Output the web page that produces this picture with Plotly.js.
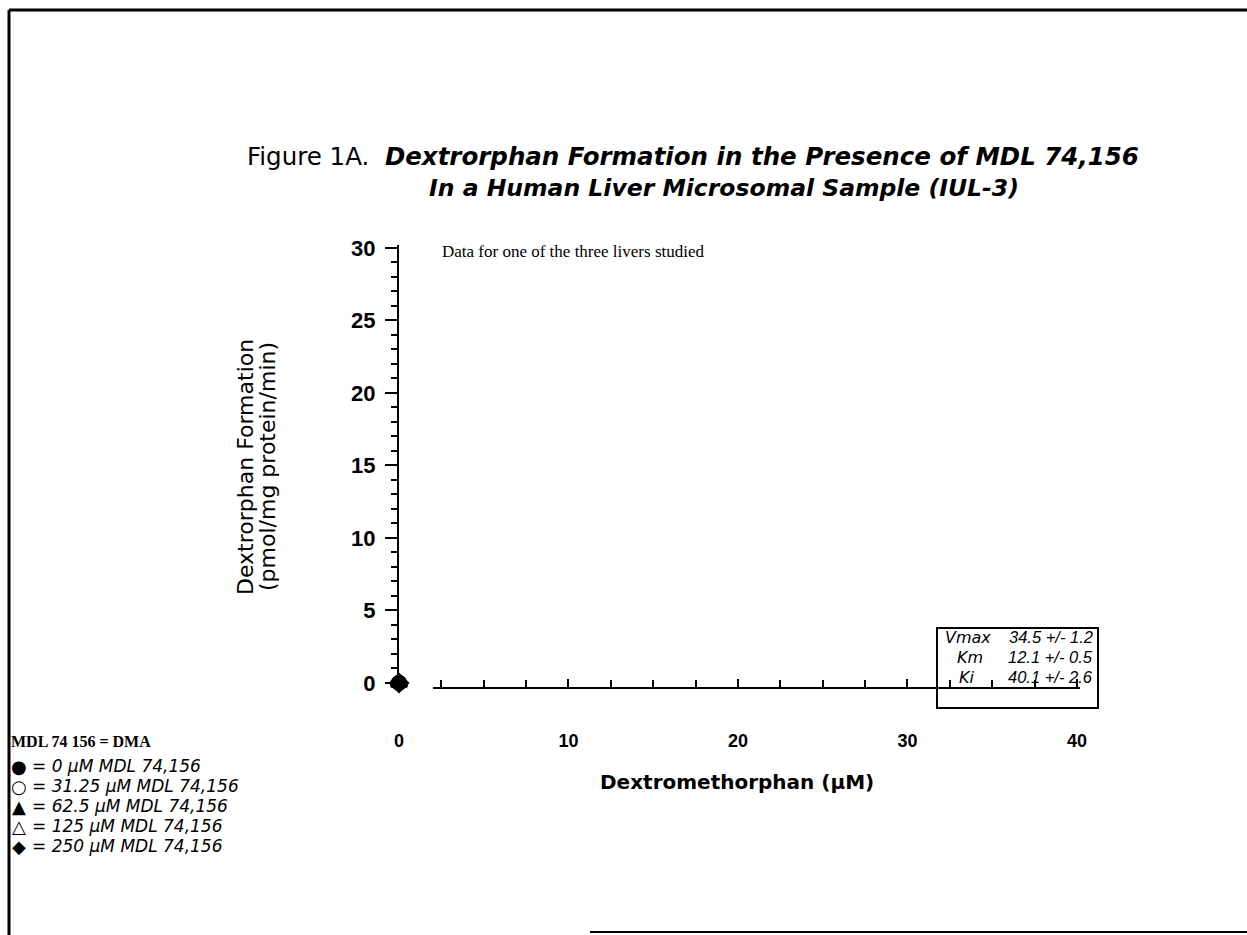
<!DOCTYPE html>
<html>
<head>
<meta charset="utf-8">
<script src="https://cdn.plot.ly/plotly-3.0.1.min.js"></script>
<style>html,body{margin:0;padding:0;background:#fff;}#chart{width:1247px;height:935px;}</style>
</head>
<body>
<div id="chart"></div>
<script>
// Series: MDL 74,156 concentrations (µM) and the visible data points
const seriesNames = ["0", "31.25", "62.5", "125", "250"];
const seriesSymbols = ["circle", "circle-open", "triangle-up", "triangle-up-open", "diamond"];
const legendGlyphs = ["●", "○", "▲", "△", "◆"];
const dextromethorphanX = [[0], [0], [0], [0], [0]];
const dextrorphanY = [[0], [0], [0], [0], [0]];

const xTickVals = [0, 10, 20, 30, 40];
const yTickVals = [0, 5, 10, 15, 20, 25, 30];

const paramNames = ["Vmax", "Km", "Ki"];
const paramValues = ["34.5 +/- 1.2", "12.1 +/- 0.5", "40.1 +/- 2.6"];

// Layout helpers (pixel -> paper), plot area 399..1080 x, 245..688 y
const L = 399, T = 245, W = 681, H = 443;
const px = v => (v - L) / W;
const py = v => (T + H - v) / H;

const SANS = "DejaVu Sans, Verdana, sans-serif";
const ARIAL = "Liberation Sans, Arial, sans-serif";
const SERIF = "Liberation Serif, Times New Roman, serif";

const traces = seriesNames.map((n, i) => ({
  type: "scatter",
  mode: "markers",
  x: dextromethorphanX[i],
  y: dextrorphanY[i],
  name: n + " µM MDL 74,156",
  showlegend: false,
  cliponaxis: false,
  marker: {symbol: seriesSymbols[i], size: 14, color: "#000", line: {color: "#000", width: 2}}
}));

function ann(x, y, text, font, extra) {
  return Object.assign({xref: "paper", yref: "paper", x: px(x), y: py(y), xanchor: "left", yanchor: "middle",
    text: text, showarrow: false, font: Object.assign({color: "#000"}, font)}, extra || {});
}

const annotations = [
  // title
  ann(245, 156, "Figure 1A.  <b><i>Dextrorphan Formation in the Presence of MDL 74,156</i></b>", {family: SANS, size: 24.5}),
  ann(427, 188, "<b><i>In a Human Liver Microsomal Sample (IUL-3)</i></b>", {family: SANS, size: 23.5}),
  // note
  ann(440, 251, "Data for one of the three livers studied", {family: SERIF, size: 17}),
  // y axis title (two lines)
  ann(245, 467, "Dextrorphan Formation", {family: SANS, size: 22}, {xanchor: "center", textangle: -90}),
  ann(267, 467, "(pmol/mg protein/min)", {family: SANS, size: 22}, {xanchor: "center", textangle: -90}),
  // x axis title
  ann(737, 782, "<b>Dextromethorphan (µM)</b>", {family: SANS, size: 20}, {xanchor: "center"}),
  // legend block
  ann(9, 741, "<b>MDL 74 156 = DMA</b>", {family: SERIF, size: 16})
];
seriesNames.forEach((n, i) => {
  annotations.push(ann(19, 766 + i * 20, legendGlyphs[i], {family: SANS, size: 18}, {xanchor: "center"}));
  annotations.push(ann(30, 766 + i * 20, "<i>= " + n + " µM MDL 74,156</i>", {family: SANS, size: 17}));
});
const nameX = [943, 955, 957];
paramNames.forEach((p, i) => {
  annotations.push(ann(nameX[i], 637 + i * 20, "<i>" + p + "</i>", {family: SANS, size: 16}));
  annotations.push(ann(1095, 637 + i * 20, "<i>" + paramValues[i] + "</i>", {family: ARIAL, size: 16.5}, {xanchor: "right"}));
});

const layout = {
  width: 1247, height: 935,
  margin: {l: L, r: 1247 - L - W, t: T, b: 935 - T - H, pad: 0, autoexpand: false},
  paper_bgcolor: "#fff", plot_bgcolor: "rgba(0,0,0,0)",
  font: {family: ARIAL, color: "#000"},
  showlegend: false,
  xaxis: {
    range: [0, 40.18], showgrid: false, zeroline: false, showline: false,
    tickvals: xTickVals, ticktext: xTickVals.map(String),
    ticks: "inside", ticklen: 9, tickwidth: 2, tickcolor: "#000",
    minor: {dtick: 2.5, ticks: "inside", ticklen: 8, tickwidth: 2, tickcolor: "#000", showgrid: false},
    ticklabelstandoff: 40,
    tickfont: {family: ARIAL, size: 18, color: "#000", weight: "bold"}
  },
  yaxis: {
    range: [-0.35, 30.2], showgrid: false, zeroline: false, showline: true, linecolor: "#000", linewidth: 2,
    tickvals: yTickVals, ticktext: yTickVals.map(String),
    ticks: "outside", ticklen: 12, tickwidth: 2, tickcolor: "#000",
    minor: {dtick: 1, ticks: "outside", ticklen: 6, tickwidth: 2, tickcolor: "#000", showgrid: false},
    ticklabelstandoff: 5,
    tickfont: {family: ARIAL, size: 22, color: "#000", weight: "bold"}
  },
  shapes: [
    // x axis line (starts right of origin as in the original)
    {type: "line", xref: "x", yref: "paper", x0: 2, x1: 40.18, y0: 0, y1: 0, line: {color: "#000", width: 2}},
    // parameter box
    {type: "rect", xref: "paper", yref: "paper", x0: px(937), x1: px(1098), y0: py(708), y1: py(628), line: {color: "#000", width: 2}},
    // page frame (left, top, bottom)
    {type: "line", xref: "paper", yref: "paper", x0: px(9), x1: px(9), y0: py(10), y1: py(935), line: {color: "#000", width: 3}},
    {type: "line", xref: "paper", yref: "paper", x0: px(9), x1: px(1247), y0: py(10), y1: py(10), line: {color: "#000", width: 3}},
    {type: "line", xref: "paper", yref: "paper", x0: px(590), x1: px(1247), y0: py(932), y1: py(932), line: {color: "#000", width: 2}}
  ],
  annotations: annotations
};

Plotly.newPlot("chart", traces, layout, {displayModeBar: false, staticPlot: true});
</script>
</body>
</html>
